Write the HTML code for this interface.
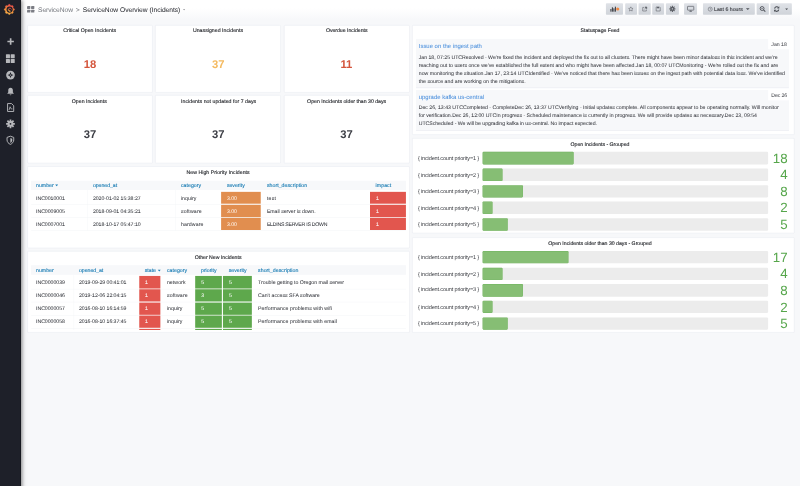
<!DOCTYPE html>
<html lang="en"><head><meta charset="utf-8"><title>ServiceNow Overview (Incidents) - Grafana</title>
<style>
html,body{margin:0;padding:0;width:800px;height:486px;overflow:hidden;background:#f7f8fa;}
#root{position:absolute;left:0;top:0;width:2160px;height:1330px;transform:scale(0.37037);transform-origin:0 0;font-family:"Liberation Sans",Arial,sans-serif;background:#f7f8fa;overflow:hidden;}
.a{position:absolute;}
.t{white-space:nowrap;text-rendering:geometricPrecision;}
.p{background:#fff;border:1px solid #e1e3ec;border-radius:2px;}
.sb{z-index:5;}
svg.a{z-index:6;overflow:visible;}
</style></head>
<body><div id="root">
<div class="a " style="left:56.03px;top:0.0px;width:2103.98px;height:52.65px;background:linear-gradient(to bottom,#ffffff 0%,#ffffff 42%,#f7f8fa 100%);"></div>
<div class="a sb" style="left:0.0px;top:0.0px;width:56.03px;height:1328.4px;background:#1e2029;box-shadow:3px 0 11px rgba(0,0,0,.5);border-right:2px solid #0c0d14;box-sizing:border-box;"></div>
<div class="a p" style="left:73.93px;top:68.26px;width:336.02px;height:179.42px;"></div>
<div class="a p" style="left:73.93px;top:257.12px;width:336.02px;height:182.39px;"></div>
<div class="a p" style="left:419.12px;top:68.26px;width:336.96px;height:179.42px;"></div>
<div class="a p" style="left:419.12px;top:257.12px;width:336.96px;height:182.39px;"></div>
<div class="a p" style="left:766.88px;top:68.26px;width:336.96px;height:179.42px;"></div>
<div class="a p" style="left:766.88px;top:257.12px;width:336.96px;height:182.39px;"></div>
<div class="a p" style="left:73.93px;top:448.82px;width:1029.92px;height:219.11px;"></div>
<div class="a p" style="left:73.93px;top:678.32px;width:1029.92px;height:217.62px;"></div>
<div class="a p" style="left:1113.43px;top:68.26px;width:1029.38px;height:293.9px;"></div>
<div class="a p" style="left:1113.43px;top:372.95px;width:1029.38px;height:255.42px;"></div>
<div class="a p" style="left:1113.43px;top:640.52px;width:1029.38px;height:255.42px;"></div>
<div class="a t" style="top:74px;font-size:14px;line-height:14px;color:#26282d;-webkit-text-stroke:0.35px #26282d;letter-spacing:0.086px;left:-358.08000000000004px;width:1200px;text-align:center;"><span id="t1">Critical Open Incidents</span></div>
<div class="a t" style="top:74px;font-size:14px;line-height:14px;color:#26282d;-webkit-text-stroke:0.35px #26282d;letter-spacing:0.083px;left:-11.399999999999977px;width:1200px;text-align:center;"><span id="t2">Unassigned Incidents</span></div>
<div class="a t" style="top:74px;font-size:14px;line-height:14px;color:#26282d;-webkit-text-stroke:0.35px #26282d;letter-spacing:-0.077px;left:336.09000000000003px;width:1200px;text-align:center;"><span id="t3">Overdue Incidents</span></div>
<div class="a t" style="top:266px;font-size:14px;line-height:14px;color:#26282d;-webkit-text-stroke:0.35px #26282d;letter-spacing:0.023px;left:-358.89px;width:1200px;text-align:center;"><span id="t4">Open Incidents</span></div>
<div class="a t" style="top:266px;font-size:14px;line-height:14px;color:#26282d;-webkit-text-stroke:0.35px #26282d;letter-spacing:0.118px;left:-9.779999999999973px;width:1200px;text-align:center;"><span id="t5">Incidents not updated for 7 days</span></div>
<div class="a t" style="top:266px;font-size:14px;line-height:14px;color:#26282d;-webkit-text-stroke:0.35px #26282d;letter-spacing:0.009px;left:335.96000000000004px;width:1200px;text-align:center;"><span id="t6">Open Incidents older than 30 days</span></div>
<div class="a t" style="top:158px;font-size:30.4px;line-height:30.4px;color:#d4553c;font-weight:700;left:-356.73px;width:1200px;text-align:center;"><span id="t7">18</span></div>
<div class="a t" style="top:158px;font-size:30.4px;line-height:30.4px;color:#f4ba60;font-weight:700;left:-10.590000000000032px;width:1200px;text-align:center;"><span id="t8">37</span></div>
<div class="a t" style="top:158px;font-size:30.4px;line-height:30.4px;color:#d4553c;font-weight:700;left:335.28px;width:1200px;text-align:center;"><span id="t9">11</span></div>
<div class="a t" style="top:347px;font-size:30.4px;line-height:30.4px;color:#3d3f46;font-weight:700;left:-356.73px;width:1200px;text-align:center;"><span id="t10">37</span></div>
<div class="a t" style="top:347px;font-size:30.4px;line-height:30.4px;color:#3d3f46;font-weight:700;left:-10.590000000000032px;width:1200px;text-align:center;"><span id="t11">37</span></div>
<div class="a t" style="top:347px;font-size:30.4px;line-height:30.4px;color:#3d3f46;font-weight:700;left:335.28px;width:1200px;text-align:center;"><span id="t12">37</span></div>
<div class="a t" style="top:458px;font-size:14px;line-height:14px;color:#26282d;-webkit-text-stroke:0.35px #26282d;letter-spacing:0.100px;left:-11.129999999999995px;width:1200px;text-align:center;"><span id="t13">New High Priority Incidents</span></div>
<div class="a " style="left:83.7px;top:487.62px;width:1012.5px;height:25.38px;background:#f7f8fa;"></div>
<div class="a t" style="top:493px;font-size:14px;line-height:14px;color:#1c7eb5;-webkit-text-stroke:0.35px #1c7eb5;letter-spacing:0.076px;left:97.2px;"><span id="t14">number</span></div>
<div class="a t" style="top:493px;font-size:14px;line-height:14px;color:#1c7eb5;-webkit-text-stroke:0.35px #1c7eb5;letter-spacing:-0.094px;left:250.83px;"><span id="t15">opened_at</span></div>
<div class="a t" style="top:493px;font-size:14px;line-height:14px;color:#1c7eb5;-webkit-text-stroke:0.35px #1c7eb5;letter-spacing:0.155px;left:488.43px;"><span id="t16">category</span></div>
<div class="a t" style="top:493px;font-size:14px;line-height:14px;color:#1c7eb5;-webkit-text-stroke:0.35px #1c7eb5;letter-spacing:-0.005px;left:612.63px;"><span id="t17">severity</span></div>
<div class="a t" style="top:493px;font-size:14px;line-height:14px;color:#1c7eb5;-webkit-text-stroke:0.35px #1c7eb5;letter-spacing:0.129px;left:720.63px;"><span id="t18">short_description</span></div>
<div class="a t" style="top:493px;font-size:14px;line-height:14px;color:#1c7eb5;-webkit-text-stroke:0.35px #1c7eb5;letter-spacing:0.170px;left:1014.12px;"><span id="t19">impact</span></div>
<div class="a" style="left:149.31px;top:498.15px;width:0;height:0;border-left:4.2px solid transparent;border-right:4.2px solid transparent;border-top:5px solid #1c7eb5;"></div>
<div class="a " style="left:83.7px;top:550.67px;width:1012.5px;height:1.0px;background:#eff1f5;"></div>
<div class="a " style="left:597.38px;top:517.73px;width:106.25px;height:32.67px;background:#e18e4f;"></div>
<div class="a " style="left:999.0px;top:517.73px;width:97.2px;height:32.67px;background:#e2564e;"></div>
<div class="a t" style="top:528px;font-size:14px;line-height:14px;color:#33353b;-webkit-text-stroke:0.1px #33353b;letter-spacing:-0.059px;left:97.2px;"><span id="t20">INC0010001</span></div>
<div class="a t" style="top:528px;font-size:14px;line-height:14px;color:#33353b;-webkit-text-stroke:0.1px #33353b;letter-spacing:-0.064px;left:250.83px;"><span id="t21">2020-01-02 15:38:27</span></div>
<div class="a t" style="top:528px;font-size:14px;line-height:14px;color:#33353b;-webkit-text-stroke:0.1px #33353b;letter-spacing:0.124px;left:488.43px;"><span id="t22">inquiry</span></div>
<div class="a t" style="top:528px;font-size:14px;line-height:14px;color:#fff3ea;-webkit-text-stroke:0.1px #fff3ea;left:612.63px;"><span id="t23">3.00</span></div>
<div class="a t" style="top:528px;font-size:14px;line-height:14px;color:#33353b;-webkit-text-stroke:0.1px #33353b;letter-spacing:0.633px;left:720.63px;"><span id="t24">test</span></div>
<div class="a t" style="top:528px;font-size:14px;line-height:14px;color:#ffffff;-webkit-text-stroke:0.1px #ffffff;left:1015.2px;"><span id="t25">1</span></div>
<div class="a " style="left:83.7px;top:586.04px;width:1012.5px;height:1.0px;background:#eff1f5;"></div>
<div class="a " style="left:597.38px;top:552.96px;width:106.25px;height:32.67px;background:#e18e4f;"></div>
<div class="a " style="left:999.0px;top:552.96px;width:97.2px;height:32.67px;background:#e2564e;"></div>
<div class="a t" style="top:563px;font-size:14px;line-height:14px;color:#33353b;-webkit-text-stroke:0.1px #33353b;letter-spacing:-0.059px;left:97.2px;"><span id="t26">INC0009005</span></div>
<div class="a t" style="top:563px;font-size:14px;line-height:14px;color:#33353b;-webkit-text-stroke:0.1px #33353b;letter-spacing:-0.064px;left:250.83px;"><span id="t27">2018-09-01 04:35:21</span></div>
<div class="a t" style="top:563px;font-size:14px;line-height:14px;color:#33353b;-webkit-text-stroke:0.1px #33353b;letter-spacing:0.472px;left:488.43px;"><span id="t28">software</span></div>
<div class="a t" style="top:563px;font-size:14px;line-height:14px;color:#fff3ea;-webkit-text-stroke:0.1px #fff3ea;left:612.63px;"><span id="t29">3.00</span></div>
<div class="a t" style="top:563px;font-size:14px;line-height:14px;color:#33353b;-webkit-text-stroke:0.1px #33353b;letter-spacing:-0.074px;left:720.63px;"><span id="t30">Email server is down.</span></div>
<div class="a t" style="top:563px;font-size:14px;line-height:14px;color:#ffffff;-webkit-text-stroke:0.1px #ffffff;left:1015.2px;"><span id="t31">1</span></div>
<div class="a " style="left:83.7px;top:621.41px;width:1012.5px;height:1.0px;background:#eff1f5;"></div>
<div class="a " style="left:597.38px;top:588.2px;width:106.25px;height:32.67px;background:#e18e4f;"></div>
<div class="a " style="left:999.0px;top:588.2px;width:97.2px;height:32.67px;background:#e2564e;"></div>
<div class="a t" style="top:598px;font-size:14px;line-height:14px;color:#33353b;-webkit-text-stroke:0.1px #33353b;letter-spacing:-0.059px;left:97.2px;"><span id="t32">INC0007001</span></div>
<div class="a t" style="top:598px;font-size:14px;line-height:14px;color:#33353b;-webkit-text-stroke:0.1px #33353b;letter-spacing:-0.064px;left:250.83px;"><span id="t33">2018-10-17 05:47:10</span></div>
<div class="a t" style="top:598px;font-size:14px;line-height:14px;color:#33353b;-webkit-text-stroke:0.1px #33353b;letter-spacing:0.331px;left:488.43px;"><span id="t34">hardware</span></div>
<div class="a t" style="top:598px;font-size:14px;line-height:14px;color:#fff3ea;-webkit-text-stroke:0.1px #fff3ea;left:612.63px;"><span id="t35">3.00</span></div>
<div class="a t" style="top:598px;font-size:14px;line-height:14px;color:#33353b;-webkit-text-stroke:0.1px #33353b;letter-spacing:-0.682px;left:720.63px;"><span id="t36">ELDINS SERVER IS DOWN</span></div>
<div class="a t" style="top:598px;font-size:14px;line-height:14px;color:#ffffff;-webkit-text-stroke:0.1px #ffffff;left:1015.2px;"><span id="t37">1</span></div>
<div class="a " style="left:236.25px;top:513.0px;width:1.0px;height:108.81px;background:#f1f3f6;"></div>
<div class="a " style="left:474.12px;top:513.0px;width:1.0px;height:108.81px;background:#f1f3f6;"></div>
<div class="a t" style="top:687px;font-size:14px;line-height:14px;color:#26282d;-webkit-text-stroke:0.35px #26282d;letter-spacing:-0.033px;left:-11.129999999999995px;width:1200px;text-align:center;"><span id="t38">Other New Incidents</span></div>
<div class="a " style="left:83.7px;top:715.77px;width:1012.5px;height:26.73px;background:#f7f8fa;"></div>
<div class="a t" style="top:722px;font-size:14px;line-height:14px;color:#1c7eb5;-webkit-text-stroke:0.35px #1c7eb5;letter-spacing:0.076px;left:97.2px;"><span id="t39">number</span></div>
<div class="a t" style="top:722px;font-size:14px;line-height:14px;color:#1c7eb5;-webkit-text-stroke:0.35px #1c7eb5;letter-spacing:-0.094px;left:213.3px;"><span id="t40">opened_at</span></div>
<div class="a t" style="top:722px;font-size:14px;line-height:14px;color:#1c7eb5;-webkit-text-stroke:0.35px #1c7eb5;left:390.83px;"><span id="t41">state</span></div>
<div class="a t" style="top:722px;font-size:14px;line-height:14px;color:#1c7eb5;-webkit-text-stroke:0.35px #1c7eb5;letter-spacing:0.155px;left:450.63px;"><span id="t42">category</span></div>
<div class="a t" style="top:722px;font-size:14px;line-height:14px;color:#1c7eb5;-webkit-text-stroke:0.35px #1c7eb5;left:542.7px;"><span id="t43">priority</span></div>
<div class="a t" style="top:722px;font-size:14px;line-height:14px;color:#1c7eb5;-webkit-text-stroke:0.35px #1c7eb5;letter-spacing:-0.005px;left:617.63px;"><span id="t44">severity</span></div>
<div class="a t" style="top:722px;font-size:14px;line-height:14px;color:#1c7eb5;-webkit-text-stroke:0.35px #1c7eb5;letter-spacing:0.129px;left:696.87px;"><span id="t45">short_description</span></div>
<div class="a" style="left:425.52px;top:727.65px;width:0;height:0;border-left:4.2px solid transparent;border-right:4.2px solid transparent;border-top:5px solid #1c7eb5;"></div>
<div class="a " style="left:83.7px;top:779.9px;width:1012.5px;height:1.0px;background:#eff1f5;"></div>
<div class="a " style="left:375.57px;top:745.47px;width:57.51px;height:33.21px;background:#e2564e;"></div>
<div class="a " style="left:527.18px;top:745.47px;width:72.23px;height:33.21px;background:#5ea84c;"></div>
<div class="a " style="left:602.37px;top:745.47px;width:77.76px;height:33.21px;background:#5ea84c;"></div>
<div class="a t" style="top:755px;font-size:14px;line-height:14px;color:#33353b;-webkit-text-stroke:0.1px #33353b;letter-spacing:-0.059px;left:97.2px;"><span id="t46">INC0000039</span></div>
<div class="a t" style="top:755px;font-size:14px;line-height:14px;color:#33353b;-webkit-text-stroke:0.1px #33353b;letter-spacing:-0.106px;left:213.3px;"><span id="t47">2019-09-29 00:41:01</span></div>
<div class="a t" style="top:755px;font-size:14px;line-height:14px;color:#ffffff;-webkit-text-stroke:0.1px #ffffff;left:391.23px;"><span id="t48">1</span></div>
<div class="a t" style="top:755px;font-size:14px;line-height:14px;color:#33353b;-webkit-text-stroke:0.1px #33353b;letter-spacing:0.208px;left:450.63px;"><span id="t49">network</span></div>
<div class="a t" style="top:755px;font-size:14px;line-height:14px;color:#ffffff;-webkit-text-stroke:0.1px #ffffff;left:543.38px;"><span id="t50">5</span></div>
<div class="a t" style="top:755px;font-size:14px;line-height:14px;color:#ffffff;-webkit-text-stroke:0.1px #ffffff;left:618.3px;"><span id="t51">5</span></div>
<div class="a t" style="top:755px;font-size:14px;line-height:14px;color:#33353b;-webkit-text-stroke:0.1px #33353b;letter-spacing:0.015px;left:696.87px;"><span id="t52">Trouble getting to Oregon mail server</span></div>
<div class="a " style="left:83.7px;top:815.27px;width:1012.5px;height:1.0px;background:#eff1f5;"></div>
<div class="a " style="left:375.57px;top:781.03px;width:57.51px;height:33.21px;background:#e2564e;"></div>
<div class="a " style="left:527.18px;top:781.03px;width:72.23px;height:33.21px;background:#5ea84c;"></div>
<div class="a " style="left:602.37px;top:781.03px;width:77.76px;height:33.21px;background:#5ea84c;"></div>
<div class="a t" style="top:790px;font-size:14px;line-height:14px;color:#33353b;-webkit-text-stroke:0.1px #33353b;letter-spacing:-0.059px;left:97.2px;"><span id="t53">INC0000046</span></div>
<div class="a t" style="top:790px;font-size:14px;line-height:14px;color:#33353b;-webkit-text-stroke:0.1px #33353b;letter-spacing:-0.106px;left:213.3px;"><span id="t54">2019-12-06 22:04:15</span></div>
<div class="a t" style="top:790px;font-size:14px;line-height:14px;color:#ffffff;-webkit-text-stroke:0.1px #ffffff;left:391.23px;"><span id="t55">1</span></div>
<div class="a t" style="top:790px;font-size:14px;line-height:14px;color:#33353b;-webkit-text-stroke:0.1px #33353b;letter-spacing:0.472px;left:450.63px;"><span id="t56">software</span></div>
<div class="a t" style="top:790px;font-size:14px;line-height:14px;color:#ffffff;-webkit-text-stroke:0.1px #ffffff;left:543.38px;"><span id="t57">3</span></div>
<div class="a t" style="top:790px;font-size:14px;line-height:14px;color:#ffffff;-webkit-text-stroke:0.1px #ffffff;left:618.3px;"><span id="t58">5</span></div>
<div class="a t" style="top:790px;font-size:14px;line-height:14px;color:#33353b;-webkit-text-stroke:0.1px #33353b;letter-spacing:0.014px;left:696.87px;"><span id="t59">Can&#x27;t access SFA software</span></div>
<div class="a " style="left:83.7px;top:850.64px;width:1012.5px;height:1.0px;background:#eff1f5;"></div>
<div class="a " style="left:375.57px;top:816.59px;width:57.51px;height:33.21px;background:#e2564e;"></div>
<div class="a " style="left:527.18px;top:816.59px;width:72.23px;height:33.21px;background:#5ea84c;"></div>
<div class="a " style="left:602.37px;top:816.59px;width:77.76px;height:33.21px;background:#5ea84c;"></div>
<div class="a t" style="top:825px;font-size:14px;line-height:14px;color:#33353b;-webkit-text-stroke:0.1px #33353b;letter-spacing:-0.059px;left:97.2px;"><span id="t60">INC0000057</span></div>
<div class="a t" style="top:825px;font-size:14px;line-height:14px;color:#33353b;-webkit-text-stroke:0.1px #33353b;letter-spacing:-0.106px;left:213.3px;"><span id="t61">2016-08-10 16:14:59</span></div>
<div class="a t" style="top:825px;font-size:14px;line-height:14px;color:#ffffff;-webkit-text-stroke:0.1px #ffffff;left:391.23px;"><span id="t62">1</span></div>
<div class="a t" style="top:825px;font-size:14px;line-height:14px;color:#33353b;-webkit-text-stroke:0.1px #33353b;letter-spacing:0.124px;left:450.63px;"><span id="t63">inquiry</span></div>
<div class="a t" style="top:825px;font-size:14px;line-height:14px;color:#ffffff;-webkit-text-stroke:0.1px #ffffff;left:543.38px;"><span id="t64">5</span></div>
<div class="a t" style="top:825px;font-size:14px;line-height:14px;color:#ffffff;-webkit-text-stroke:0.1px #ffffff;left:618.3px;"><span id="t65">5</span></div>
<div class="a t" style="top:825px;font-size:14px;line-height:14px;color:#33353b;-webkit-text-stroke:0.1px #33353b;letter-spacing:0.176px;left:696.87px;"><span id="t66">Performance problems with wifi</span></div>
<div class="a " style="left:83.7px;top:886.01px;width:1012.5px;height:1.0px;background:#eff1f5;"></div>
<div class="a " style="left:375.57px;top:852.15px;width:57.51px;height:33.21px;background:#e2564e;"></div>
<div class="a " style="left:527.18px;top:852.15px;width:72.23px;height:33.21px;background:#5ea84c;"></div>
<div class="a " style="left:602.37px;top:852.15px;width:77.76px;height:33.21px;background:#5ea84c;"></div>
<div class="a t" style="top:860px;font-size:14px;line-height:14px;color:#33353b;-webkit-text-stroke:0.1px #33353b;letter-spacing:-0.059px;left:97.2px;"><span id="t67">INC0000058</span></div>
<div class="a t" style="top:860px;font-size:14px;line-height:14px;color:#33353b;-webkit-text-stroke:0.1px #33353b;letter-spacing:-0.106px;left:213.3px;"><span id="t68">2016-08-10 16:37:45</span></div>
<div class="a t" style="top:860px;font-size:14px;line-height:14px;color:#ffffff;-webkit-text-stroke:0.1px #ffffff;left:391.23px;"><span id="t69">1</span></div>
<div class="a t" style="top:860px;font-size:14px;line-height:14px;color:#33353b;-webkit-text-stroke:0.1px #33353b;letter-spacing:0.124px;left:450.63px;"><span id="t70">inquiry</span></div>
<div class="a t" style="top:860px;font-size:14px;line-height:14px;color:#ffffff;-webkit-text-stroke:0.1px #ffffff;left:543.38px;"><span id="t71">5</span></div>
<div class="a t" style="top:860px;font-size:14px;line-height:14px;color:#ffffff;-webkit-text-stroke:0.1px #ffffff;left:618.3px;"><span id="t72">5</span></div>
<div class="a t" style="top:860px;font-size:14px;line-height:14px;color:#33353b;-webkit-text-stroke:0.1px #33353b;letter-spacing:0.162px;left:696.87px;"><span id="t73">Performance problems with email</span></div>
<div class="a " style="left:375.57px;top:887.71px;width:57.51px;height:3.29px;background:#e2564e;"></div>
<div class="a " style="left:527.18px;top:887.71px;width:72.23px;height:3.29px;background:#5ea84c;"></div>
<div class="a " style="left:602.37px;top:887.71px;width:77.76px;height:3.29px;background:#5ea84c;"></div>
<div class="a " style="left:199.13px;top:742.5px;width:1.0px;height:148.5px;background:#f1f3f6;"></div>
<div class="a t" style="top:74px;font-size:14px;line-height:14px;color:#26282d;-webkit-text-stroke:0.35px #26282d;letter-spacing:-0.125px;left:1020.0px;width:1200px;text-align:center;"><span id="t74">Statuspage Feed</span></div>
<div class="a " style="left:1123.2px;top:105.3px;width:1007.1px;height:132.3px;background:#f7f8fa;border-bottom:2px solid #eceef3;box-sizing:border-box;"></div>
<div class="a " style="left:2073.87px;top:105.3px;width:56.43px;height:27.81px;background:#ffffff;"></div>
<div class="a t" style="top:112px;font-size:14px;line-height:14px;color:#4a4c52;-webkit-text-stroke:0.1px #4a4c52;letter-spacing:0.012px;left:1503.5700000000002px;width:1200px;text-align:center;"><span id="t75">Jan 18</span></div>
<div class="a t" style="top:117px;font-size:16px;line-height:16px;color:#4b8fdc;-webkit-text-stroke:0.1px #4b8fdc;letter-spacing:0.025px;left:1130.63px;"><span id="t76">Issue on the ingest path</span></div>
<div class="a t" style="top:147px;font-size:14px;line-height:14px;color:#36383e;-webkit-text-stroke:0.1px #36383e;letter-spacing:-0.037px;left:1130.63px;"><span id="t77">Jan 18, 07:25 UTCResolved - We&#x27;re fixed the incident and deployed the fix out to all clusters. There might have been minor dataloss in this incident and we&#x27;re</span></div>
<div class="a t" style="top:169px;font-size:14px;line-height:14px;color:#36383e;-webkit-text-stroke:0.1px #36383e;letter-spacing:-0.017px;left:1130.63px;"><span id="t78">reaching out to users once we&#x27;ve established the full extent and who might have been affected.Jan 18, 00:07 UTCMonitoring - We&#x27;re rolled out the fix and are</span></div>
<div class="a t" style="top:191px;font-size:14px;line-height:14px;color:#36383e;-webkit-text-stroke:0.1px #36383e;letter-spacing:0.012px;left:1130.63px;"><span id="t79">now monitoring the situation.Jan 17, 23:14 UTCIdentified - We&#x27;ve noticed that there has been issues on the ingest path with potential data loss. We&#x27;ve identified</span></div>
<div class="a t" style="top:212px;font-size:14px;line-height:14px;color:#36383e;-webkit-text-stroke:0.1px #36383e;letter-spacing:0.046px;left:1130.63px;"><span id="t80">the source and are working on the mitigations.</span></div>
<div class="a " style="left:1123.2px;top:243.27px;width:1007.1px;height:110.16px;background:#f7f8fa;border-bottom:2px solid #eceef3;box-sizing:border-box;"></div>
<div class="a " style="left:2073.87px;top:243.27px;width:56.43px;height:27.81px;background:#ffffff;"></div>
<div class="a t" style="top:250px;font-size:14px;line-height:14px;color:#4a4c52;-webkit-text-stroke:0.1px #4a4c52;letter-spacing:-0.373px;left:1503.5700000000002px;width:1200px;text-align:center;"><span id="t81">Dec 26</span></div>
<div class="a t" style="top:254px;font-size:16px;line-height:16px;color:#4b8fdc;-webkit-text-stroke:0.1px #4b8fdc;letter-spacing:0.008px;left:1130.63px;"><span id="t82">upgrade kafka us-central</span></div>
<div class="a t" style="top:282px;font-size:14px;line-height:14px;color:#36383e;-webkit-text-stroke:0.1px #36383e;letter-spacing:-0.034px;left:1130.63px;"><span id="t83">Dec 26, 13:43 UTCCompleted - CompleteDec 26, 13:37 UTCVerifying - Initial updates complete. All components appear to be operating normally. Will monitor</span></div>
<div class="a t" style="top:304px;font-size:14px;line-height:14px;color:#36383e;-webkit-text-stroke:0.1px #36383e;letter-spacing:-0.048px;left:1130.63px;"><span id="t84">for verification.Dec 26, 12:00 UTCIn progress - Scheduled maintenance is currently in progress. We will provide updates as necessary.Dec 23, 09:54</span></div>
<div class="a t" style="top:326px;font-size:14px;line-height:14px;color:#36383e;-webkit-text-stroke:0.1px #36383e;letter-spacing:-0.118px;left:1130.63px;"><span id="t85">UTCScheduled - We will be upgrading kafka in us-central. No impact expected.</span></div>
<div class="a t" style="top:382px;font-size:14px;line-height:14px;color:#26282d;-webkit-text-stroke:0.35px #26282d;letter-spacing:-0.098px;left:1020.0px;width:1200px;text-align:center;"><span id="t86">Open Incidents - Grouped</span></div>
<div class="a " style="left:1302.62px;top:410.27px;width:771.26px;height:33.62px;background:#ececec;border-radius:3px;"></div>
<div class="a " style="left:1302.62px;top:410.27px;width:246.15px;height:33.62px;background:#86be74;border-radius:3px;box-shadow:inset 0 0 0 1px #6fb45f;"></div>
<div class="a t" style="top:419px;font-size:15px;line-height:15px;color:#3e4046;letter-spacing:-0.422px;left:1128.33px;"><span id="t87">{ incident.count priority=1 }</span></div>
<div class="a t" style="top:410px;font-size:36px;line-height:36px;color:#56a64b;left:926.79px;width:1200px;text-align:right;"><span id="t88">18</span></div>
<div class="a " style="left:1302.62px;top:454.95px;width:771.26px;height:33.62px;background:#ececec;border-radius:3px;"></div>
<div class="a " style="left:1302.62px;top:454.95px;width:54.7px;height:33.62px;background:#86be74;border-radius:3px;box-shadow:inset 0 0 0 1px #6fb45f;"></div>
<div class="a t" style="top:465px;font-size:15px;line-height:15px;color:#3e4046;letter-spacing:-0.422px;left:1128.33px;"><span id="t89">{ incident.count priority=2 }</span></div>
<div class="a t" style="top:453px;font-size:36px;line-height:36px;color:#56a64b;left:926.79px;width:1200px;text-align:right;"><span id="t90">4</span></div>
<div class="a " style="left:1302.62px;top:499.64px;width:771.26px;height:33.62px;background:#ececec;border-radius:3px;"></div>
<div class="a " style="left:1302.62px;top:499.64px;width:109.4px;height:33.62px;background:#86be74;border-radius:3px;box-shadow:inset 0 0 0 1px #6fb45f;"></div>
<div class="a t" style="top:508px;font-size:15px;line-height:15px;color:#3e4046;letter-spacing:-0.422px;left:1128.33px;"><span id="t91">{ incident.count priority=3 }</span></div>
<div class="a t" style="top:499px;font-size:36px;line-height:36px;color:#56a64b;left:926.79px;width:1200px;text-align:right;"><span id="t92">8</span></div>
<div class="a " style="left:1302.62px;top:544.32px;width:771.26px;height:33.62px;background:#ececec;border-radius:3px;"></div>
<div class="a " style="left:1302.62px;top:544.32px;width:27.35px;height:33.62px;background:#86be74;border-radius:3px;box-shadow:inset 0 0 0 1px #6fb45f;"></div>
<div class="a t" style="top:554px;font-size:15px;line-height:15px;color:#3e4046;letter-spacing:-0.422px;left:1128.33px;"><span id="t93">{ incident.count priority=4 }</span></div>
<div class="a t" style="top:542px;font-size:36px;line-height:36px;color:#56a64b;left:926.79px;width:1200px;text-align:right;"><span id="t94">2</span></div>
<div class="a " style="left:1302.62px;top:589.01px;width:771.26px;height:33.62px;background:#ececec;border-radius:3px;"></div>
<div class="a " style="left:1302.62px;top:589.01px;width:68.37px;height:33.62px;background:#86be74;border-radius:3px;box-shadow:inset 0 0 0 1px #6fb45f;"></div>
<div class="a t" style="top:597px;font-size:15px;line-height:15px;color:#3e4046;letter-spacing:-0.422px;left:1128.33px;"><span id="t95">{ incident.count priority=5 }</span></div>
<div class="a t" style="top:588px;font-size:36px;line-height:36px;color:#56a64b;left:926.79px;width:1200px;text-align:right;"><span id="t96">5</span></div>
<div class="a t" style="top:650px;font-size:14px;line-height:14px;color:#26282d;-webkit-text-stroke:0.35px #26282d;letter-spacing:-0.017px;left:1020.0px;width:1200px;text-align:center;"><span id="t97">Open Incidents older than 30 days - Grouped</span></div>
<div class="a " style="left:1302.62px;top:677.84px;width:771.26px;height:33.62px;background:#ececec;border-radius:3px;"></div>
<div class="a " style="left:1302.62px;top:677.84px;width:232.47px;height:33.62px;background:#86be74;border-radius:3px;box-shadow:inset 0 0 0 1px #6fb45f;"></div>
<div class="a t" style="top:686px;font-size:15px;line-height:15px;color:#3e4046;letter-spacing:-0.422px;left:1128.33px;"><span id="t98">{ incident.count priority=1 }</span></div>
<div class="a t" style="top:677px;font-size:36px;line-height:36px;color:#56a64b;left:926.79px;width:1200px;text-align:right;"><span id="t99">17</span></div>
<div class="a " style="left:1302.62px;top:722.52px;width:771.26px;height:33.62px;background:#ececec;border-radius:3px;"></div>
<div class="a " style="left:1302.62px;top:722.52px;width:54.7px;height:33.62px;background:#86be74;border-radius:3px;box-shadow:inset 0 0 0 1px #6fb45f;"></div>
<div class="a t" style="top:732px;font-size:15px;line-height:15px;color:#3e4046;letter-spacing:-0.422px;left:1128.33px;"><span id="t100">{ incident.count priority=2 }</span></div>
<div class="a t" style="top:721px;font-size:36px;line-height:36px;color:#56a64b;left:926.79px;width:1200px;text-align:right;"><span id="t101">4</span></div>
<div class="a " style="left:1302.62px;top:767.21px;width:771.26px;height:33.62px;background:#ececec;border-radius:3px;"></div>
<div class="a " style="left:1302.62px;top:767.21px;width:109.4px;height:33.62px;background:#86be74;border-radius:3px;box-shadow:inset 0 0 0 1px #6fb45f;"></div>
<div class="a t" style="top:775px;font-size:15px;line-height:15px;color:#3e4046;letter-spacing:-0.422px;left:1128.33px;"><span id="t102">{ incident.count priority=3 }</span></div>
<div class="a t" style="top:767px;font-size:36px;line-height:36px;color:#56a64b;left:926.79px;width:1200px;text-align:right;"><span id="t103">8</span></div>
<div class="a " style="left:1302.62px;top:811.89px;width:771.26px;height:33.62px;background:#ececec;border-radius:3px;"></div>
<div class="a " style="left:1302.62px;top:811.89px;width:27.35px;height:33.62px;background:#86be74;border-radius:3px;box-shadow:inset 0 0 0 1px #6fb45f;"></div>
<div class="a t" style="top:821px;font-size:15px;line-height:15px;color:#3e4046;letter-spacing:-0.422px;left:1128.33px;"><span id="t104">{ incident.count priority=4 }</span></div>
<div class="a t" style="top:812px;font-size:36px;line-height:36px;color:#56a64b;left:926.79px;width:1200px;text-align:right;"><span id="t105">2</span></div>
<div class="a " style="left:1302.62px;top:856.58px;width:771.26px;height:33.62px;background:#ececec;border-radius:3px;"></div>
<div class="a " style="left:1302.62px;top:856.58px;width:68.37px;height:33.62px;background:#86be74;border-radius:3px;box-shadow:inset 0 0 0 1px #6fb45f;"></div>
<div class="a t" style="top:865px;font-size:15px;line-height:15px;color:#3e4046;letter-spacing:-0.422px;left:1128.33px;"><span id="t106">{ incident.count priority=5 }</span></div>
<div class="a t" style="top:856px;font-size:36px;line-height:36px;color:#56a64b;left:926.79px;width:1200px;text-align:right;"><span id="t107">5</span></div>
<svg class="a" style="left:72.9px;top:15.8px" width="19.71" height="18.36" viewBox="0 0 20 18"><g fill="#7b7d84"><rect x="0" y="0" width="9" height="8" rx="1.2"/><rect x="11" y="0" width="9" height="8" rx="1.2"/><rect x="0" y="10" width="9" height="8" rx="1.2"/><rect x="11" y="10" width="9" height="8" rx="1.2"/></g></svg>
<div class="a t" style="top:17px;font-size:18px;line-height:18px;color:#7e8087;-webkit-text-stroke:0.1px #7e8087;letter-spacing:-0.180px;left:102.6px;"><span id="t108">ServiceNow</span></div>
<div class="a t" style="top:18px;font-size:17px;line-height:17px;color:#6f7177;-webkit-text-stroke:0.1px #6f7177;left:205.47px;"><span id="t109">&gt;</span></div>
<div class="a t" style="top:17px;font-size:18px;line-height:18px;color:#2f3137;-webkit-text-stroke:0.1px #2f3137;letter-spacing:-0.059px;left:223.56px;"><span id="t110">ServiceNow Overview (Incidents)</span></div>
<div class="a" style="left:495.45px;top:24.84px;width:0;height:0;border-left:2.8px solid transparent;border-right:2.8px solid transparent;border-top:3.8px solid #3a3c42;"></div>
<div class="a " style="left:1636.2px;top:8.51px;width:45.63px;height:31.32px;background:linear-gradient(to bottom,#dfe2e7,#cfd3d9);border-radius:2px;"></div>
<div class="a " style="left:1687.5px;top:8.51px;width:32.13px;height:31.32px;background:linear-gradient(to bottom,#dfe2e7,#cfd3d9);border-radius:2px;"></div>
<div class="a " style="left:1723.95px;top:8.51px;width:32.67px;height:31.32px;background:linear-gradient(to bottom,#dfe2e7,#cfd3d9);border-radius:2px;"></div>
<div class="a " style="left:1760.94px;top:8.51px;width:31.86px;height:31.32px;background:linear-gradient(to bottom,#dfe2e7,#cfd3d9);border-radius:2px;"></div>
<div class="a " style="left:1797.93px;top:8.51px;width:35.37px;height:31.32px;background:linear-gradient(to bottom,#dfe2e7,#cfd3d9);border-radius:2px;"></div>
<div class="a " style="left:1847.07px;top:8.51px;width:34.56px;height:31.32px;background:linear-gradient(to bottom,#dfe2e7,#cfd3d9);border-radius:2px;"></div>
<div class="a " style="left:1898.37px;top:8.51px;width:139.46px;height:31.32px;background:linear-gradient(to bottom,#dfe2e7,#cfd3d9);border-radius:2px;"></div>
<div class="a " style="left:2042.55px;top:8.51px;width:33.08px;height:31.32px;background:linear-gradient(to bottom,#dfe2e7,#cfd3d9);border-radius:2px;"></div>
<div class="a " style="left:2079.68px;top:8.51px;width:58.46px;height:31.32px;background:linear-gradient(to bottom,#dfe2e7,#cfd3d9);border-radius:2px;"></div>
<svg class="a" style="left:1647.54px;top:16.74px" width="24.3" height="14.58" viewBox="0 0 27 16"><g fill="#3f4147"><rect x="0" y="8" width="3.2" height="8"/><rect x="4.5" y="3" width="3.2" height="13"/><rect x="9" y="6" width="3.2" height="10"/><rect x="13.5" y="1" width="3.2" height="15"/></g><circle cx="22" cy="8" r="4.800" fill="#f08a45"/></svg>
<svg class="a" style="left:1696.41px;top:17.01px" width="14.58" height="14.31" viewBox="0 0 24 24"><path d="M12 2.5l3 6.4 7 .9-5.1 4.8 1.3 6.9L12 18.1 5.8 21.500l1.300-6.900L2 9.800l7-.9z" fill="none" stroke="#5d6067" stroke-width="2.4" stroke-linejoin="round"/></svg>
<svg class="a" style="left:1732.86px;top:16.74px" width="15.66" height="14.58" viewBox="0 0 24 24"><path d="M10 5H3v16h16v-7" fill="none" stroke="#5d6067" stroke-width="2.6"/><path d="M13 3h8v8zM20 4L10 14" fill="#5d6067" stroke="#5d6067" stroke-width="2.6"/></svg>
<svg class="a" style="left:1769.04px;top:16.74px" width="16.2" height="14.58" viewBox="0 0 24 24"><path d="M3 3h15l3 3v15H3z" fill="none" stroke="#5d6067" stroke-width="2.6"/><rect x="7" y="3" width="9" height="6" fill="#5d6067"/></svg>
<svg class="a" style="left:1806.3px;top:15.39px" width="18.9" height="17.82" viewBox="0 0 24 24"><g fill="#5d6067"><circle cx="12" cy="12" r="7.2"/><g stroke="#5d6067" stroke-width="4.2"><path d="M12 1v22M1 12h22M4.200 4.200l15.600 15.600M19.800 4.200L4.200 19.800"/></g></g><circle cx="12" cy="12" r="2.6" fill="#dadee4"/></svg>
<svg class="a" style="left:1854.63px;top:16.2px" width="19.44" height="16.2" viewBox="0 0 26 22"><rect x="1.5" y="1.500" width="23" height="14" rx="1.500" fill="none" stroke="#5d6067" stroke-width="2.6"/><path d="M8 21h10l-2-4h-6z" fill="#5d6067"/></svg>
<svg class="a" style="left:1910.79px;top:18.09px" width="13.23" height="13.23" viewBox="0 0 24 24"><circle cx="12" cy="12" r="10" fill="none" stroke="#5d6067" stroke-width="2.6"/><path d="M12 6v6.500h5" fill="none" stroke="#5d6067" stroke-width="2.6"/></svg>
<div class="a t" style="top:18px;font-size:14px;line-height:14px;color:#3f4147;-webkit-text-stroke:0.35px #3f4147;letter-spacing:0.081px;left:1927.8px;"><span id="t111">Last 6 hours</span></div>
<div class="a" style="left:2014.2px;top:21.6px;width:0;height:0;border-left:5px solid transparent;border-right:5px solid transparent;border-top:5.6px solid #4d5057;"></div>
<svg class="a" style="left:2050.11px;top:16.2px" width="18.09" height="16.74" viewBox="0 0 24 24"><circle cx="10" cy="10" r="7.500" fill="none" stroke="#4d5057" stroke-width="3.600"/><path d="M15.500 15.500l7 7" stroke="#4d5057" stroke-width="4"/><path d="M6.500 10h7" stroke="#4d5057" stroke-width="2.200"/></svg>
<svg class="a" style="left:2087.91px;top:15.93px" width="18.09" height="17.01" viewBox="0 0 24 24"><path d="M4 10a8.500 8.500 0 0 1 15-3.500M20 14a8.500 8.500 0 0 1-15 3.500" fill="none" stroke="#4d5057" stroke-width="4"/><path d="M22 1v8.500h-8.500zM2 23v-8.500h8.500z" fill="#4d5057"/></svg>
<div class="a" style="left:2119.5px;top:22.95px;width:0;height:0;border-left:4px solid transparent;border-right:4px solid transparent;border-top:4.6px solid #44474d;"></div>
<svg class="a" style="left:11.34px;top:10.26px" width="28.35" height="31.05" viewBox="0 0 100 106"><defs><linearGradient id="lg" x1="0.25" y1="1" x2="0.55" y2="0"><stop offset="0" stop-color="#fcb849"/><stop offset="0.5" stop-color="#f4893a"/><stop offset="1" stop-color="#ef4b4d"/></linearGradient></defs>
<path fill="url(#lg)" stroke="url(#lg)" stroke-width="3" stroke-linejoin="round" d="M35.5 17.9 L45.4 4.2 L54.6 4.2 L64.5 17.9 L81.2 15.2 L87.8 21.8 L85.1 38.5 L98.8 48.4 L98.8 57.6 L85.1 67.5 L87.8 84.2 L81.2 90.8 L64.5 88.1 L54.6 101.8 L45.4 101.8 L35.5 88.1 L18.8 90.8 L12.2 84.2 L14.9 67.5 L1.2 57.6 L1.2 48.4 L14.9 38.5 L12.2 21.8 L18.8 15.2Z"/>
<circle cx="53" cy="54" r="29.500" fill="#1e2029"/>
<path fill="none" stroke="url(#lg)" stroke-width="8" stroke-linecap="round" d="M68 49 A 15 15 0 1 0 60 70"/>
<circle cx="52" cy="60" r="5" fill="url(#lg)"/></svg>
<svg class="a" style="left:18.63px;top:102.06px" width="19.44" height="20.25" viewBox="0 0 20 20"><path d="M10 1v18M1 10h18" stroke="#b6b7bb" stroke-width="4.6"/></svg>
<svg class="a" style="left:15.93px;top:146.07px" width="23.76" height="24.3" viewBox="0 0 20 20"><g fill="#b6b7bb"><rect x="0" y="0" width="9.200" height="9.200" rx="1.300"/><rect x="10.800" y="0" width="9.200" height="9.200" rx="1.300"/><rect x="0" y="10.800" width="9.200" height="9.200" rx="1.300"/><rect x="10.800" y="10.800" width="9.200" height="9.200" rx="1.300"/></g></svg>
<svg class="a" style="left:15.93px;top:189.81px" width="24.57" height="25.38" viewBox="0 0 24 24"><circle cx="12" cy="12" r="11.500" fill="#b6b7bb"/><path d="M12 4l2.300 5.700L20 12l-5.700 2.300L12 20l-2.300-5.700L4 12l5.700-2.300z" fill="#1e2029"/><circle cx="12" cy="12" r="1.600" fill="#b6b7bb"/></svg>
<svg class="a" style="left:17.82px;top:234.63px" width="21.06" height="24.3" viewBox="0 0 22 24"><path d="M11 1.500c-4.200 0-6.500 3-6.500 7.200v5.300L1.500 18.500h19l-3-4.500V8.700c0-4.200-2.300-7.200-6.500-7.200z" fill="#b6b7bb"/><path d="M8.200 20.300a2.900 2.900 0 0 0 5.600 0z" fill="#b6b7bb"/></svg>
<svg class="a" style="left:18.63px;top:277.56px" width="19.44" height="24.57" viewBox="0 0 20 25"><path d="M1.500 1.500h11l6 6v16h-17z" fill="none" stroke="#b6b7bb" stroke-width="2.600"/><path d="M5.500 19.500l3-9 3 6h3.500" fill="none" stroke="#b6b7bb" stroke-width="2.200"/></svg>
<svg class="a" style="left:15.93px;top:322.38px" width="24.57" height="24.57" viewBox="0 0 24 24"><g fill="#b6b7bb"><circle cx="12" cy="12" r="7.600"/><g stroke="#b6b7bb" stroke-width="4.600"><path d="M12 .5v23M.5 12h23M3.900 3.900l16.200 16.200M20.100 3.900L3.900 20.100"/></g></g><circle cx="12" cy="12" r="2.400" fill="#1e2029"/></svg>
<svg class="a" style="left:16.74px;top:366.12px" width="22.14" height="25.65" viewBox="0 0 22 25"><path d="M11 1.500l9 3.200v6.800c0 5.500-3.800 9.600-9 12-5.200-2.400-9-6.500-9-12V4.700z" fill="none" stroke="#b6b7bb" stroke-width="2.600"/><path d="M11 6.500v13c3-1.800 5-4.400 5-8V8.200z" fill="#b6b7bb"/></svg>
</div></body></html>
